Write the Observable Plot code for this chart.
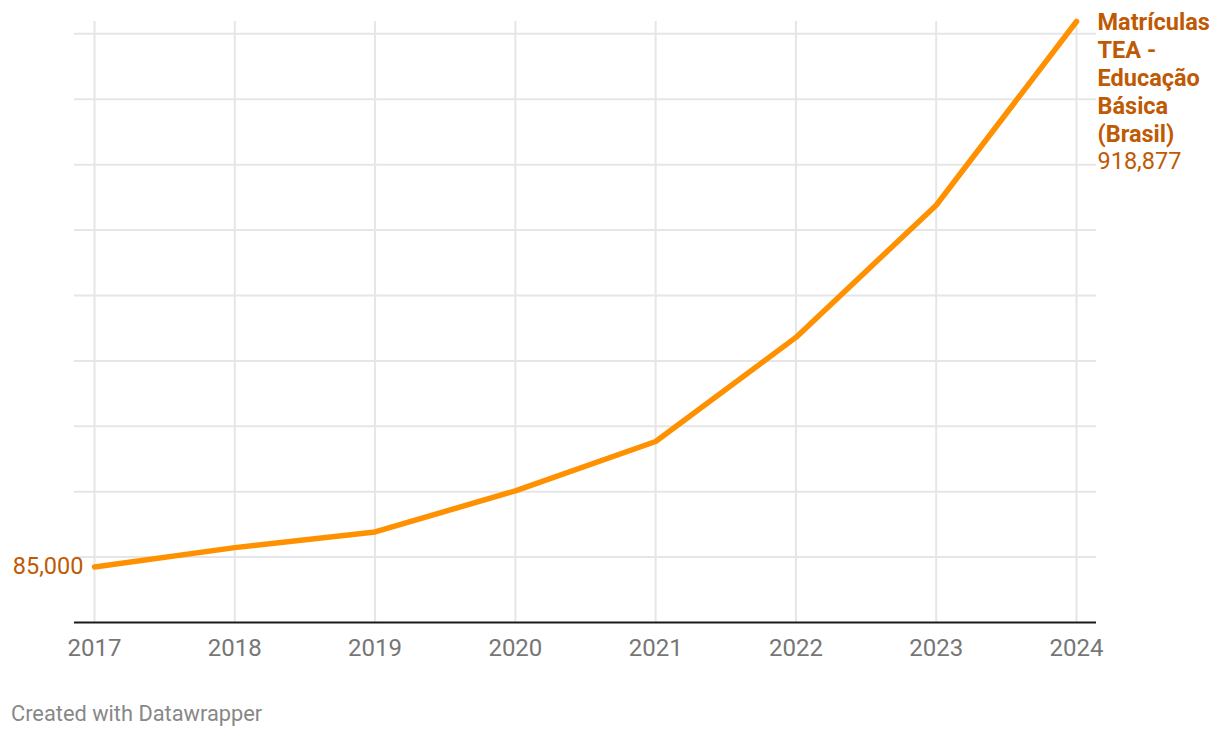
<!DOCTYPE html>
<html>
<head>
<meta charset="utf-8">
<script src="https://cdn.jsdelivr.net/npm/d3@7"></script>
<script src="https://cdn.jsdelivr.net/npm/@observablehq/plot@0.6"></script>
<style>
  html, body { margin: 0; padding: 0; background: #fff; }
  body { width: 1220px; height: 738px; position: relative; font-family: Roboto, "Noto Sans", sans-serif; }
  #chart svg { display: block; }
  #credit { position: absolute; left: 11px; top: 702px; font-size: 21.8px; line-height: 24px; color: #888; font-family: Roboto, sans-serif; }
</style>
</head>
<body>
<div id="chart"></div>
<div id="credit">Created with Datawrapper</div>
<script>
const years = [2017, 2018, 2019, 2020, 2021, 2022, 2023, 2024];
const values = [85000, 114500, 138500, 201300, 276700, 435900, 638000, 918877];
const gridTicks = [100000, 200000, 300000, 400000, 500000, 600000, 700000, 800000, 900000];
const seriesName = "Matrículas\nTEA -\nEducação\nBásica\n(Brasil)";
const startLabel = "85,000";
const endLabel = "918,877";

const data = years.map((y, i) => ({year: y, value: values[i]}));
const first = data[0];
const last = data[data.length - 1];

const lineColor = "#ff9100";
const labelColor = "#bf5a04";

const chart = Plot.plot({
  width: 1220,
  height: 680,
  marginLeft: 74,
  marginRight: 124,
  marginTop: 21,
  marginBottom: 58,
  style: {fontFamily: "Roboto, sans-serif", background: "#fff", overflow: "visible"},
  x: {domain: [2017, 2024], insetLeft: 20, insetRight: 20, axis: null},
  y: {domain: [0, 918877], axis: null},
  marks: [
    Plot.ruleY(gridTicks, {stroke: "#e6e6e6", strokeWidth: 2}),
    Plot.ruleX(years, {stroke: "#e6e6e6", strokeWidth: 2}),
    Plot.ruleY([0], {stroke: "#1a1a1a", strokeWidth: 2}),
    Plot.axisX(years, {
      tickSize: 0, tickPadding: 16, fontSize: 24, fill: "#767676",
      tickFormat: d => String(d), lineAnchor: "top", label: null
    }),
    Plot.line(data, {x: "year", y: "value", stroke: lineColor, strokeWidth: 5.5,
      strokeLinecap: "round", strokeLinejoin: "round"}),
    Plot.text([first], {x: "year", y: "value", text: () => startLabel,
      textAnchor: "end", dx: -11, fontSize: 23.5, fill: labelColor}),
    Plot.text([last], {x: "year", y: "value", text: () => seriesName,
      textAnchor: "start", lineAnchor: "top", dx: 21, dy: -11, fontSize: 23.5,
      lineHeight: 1.19, fontWeight: "bold", fill: labelColor}),
    Plot.text([last], {x: "year", y: "value", text: () => endLabel,
      textAnchor: "start", lineAnchor: "top", dx: 21, dy: 131, fontSize: 23.5,
      fill: labelColor})
  ]
});
document.getElementById("chart").appendChild(chart);
</script>
</body>
</html>
